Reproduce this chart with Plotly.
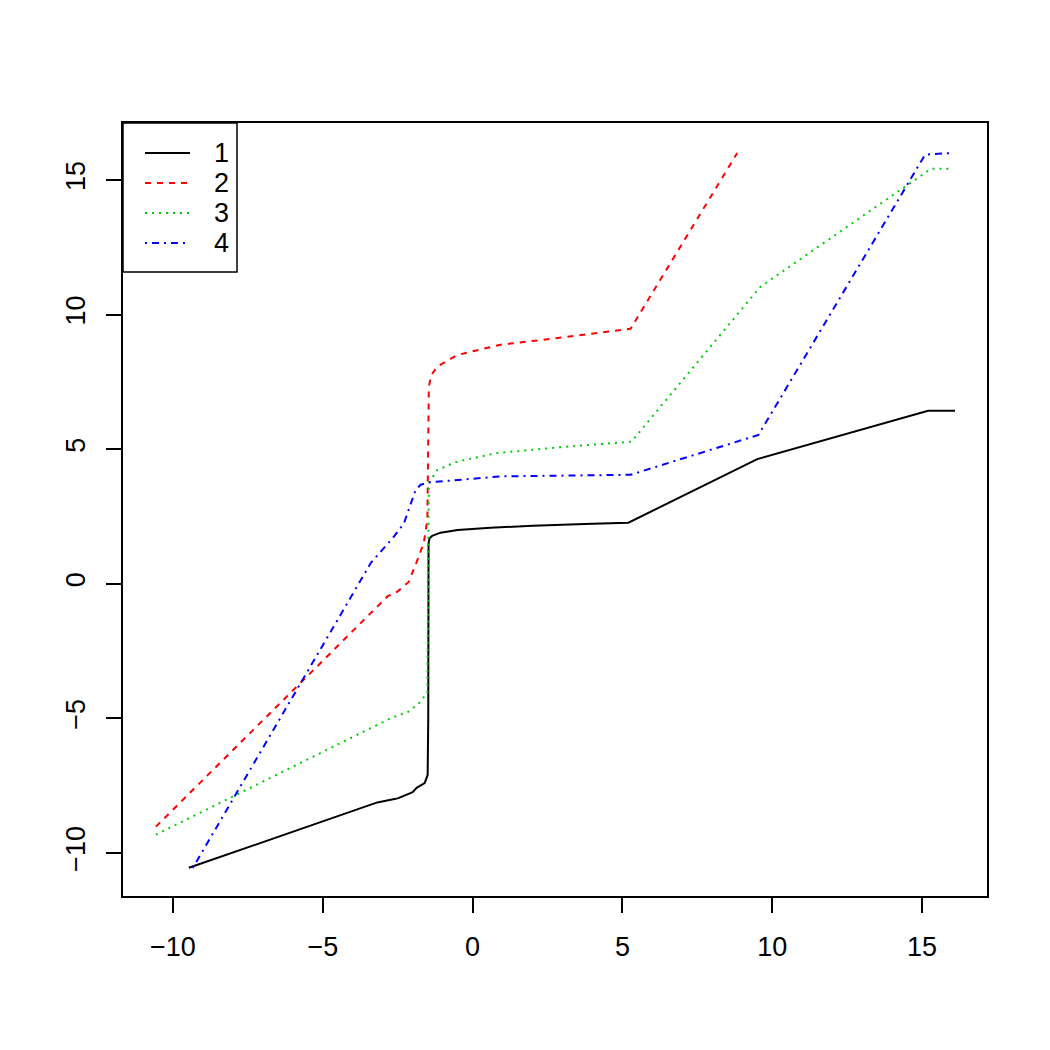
import plotly.graph_objects as go

# Series data
x1 = [-9.47, -3.18, -2.73, -2.5, -2.0, -1.87, -1.6, -1.5, -1.48, -1.47, -1.44, -1.35, -1.07, -0.5, 0.6, 2.0, 4.0, 5.2, 9.5, 15.2, 16.1]
y1 = [-10.55, -8.12, -8.02, -7.97, -7.74, -7.58, -7.4, -7.1, -5.0, 1.5, 1.68, 1.78, 1.9, 2.0, 2.08, 2.16, 2.23, 2.27, 4.63, 6.43, 6.43]

x2 = [-10.57, -2.84, -2.51, -2.13, -1.84, -1.63, -1.51, -1.48, -1.46, -1.38, -1.18, -0.51, 0.93, 3.0, 5.27, 8.83]
y2 = [-9.02, -0.47, -0.29, 0.07, 0.89, 1.52, 2.38, 5.0, 7.33, 7.75, 8.07, 8.5, 8.88, 9.15, 9.47, 16.0]

x3 = [-10.57, -2.73, -2.12, -1.8, -1.51, -1.48, -1.46, -1.18, -0.51, 0.82, 3.0, 5.3, 9.6, 15.3, 15.93]
y3 = [-9.32, -4.99, -4.74, -4.45, -4.05, 0.0, 3.74, 4.23, 4.54, 4.86, 5.08, 5.28, 11.03, 15.42, 15.42]

x4 = [-9.34, -3.4, -2.62, -2.29, -1.9, -1.73, -1.51, 0.93, 5.27, 9.54, 15.1, 15.93]
y4 = [-10.56, 0.77, 1.76, 2.25, 3.49, 3.68, 3.76, 3.99, 4.05, 5.53, 15.94, 16.0]

labels = ["1", "2", "3", "4"]
colors = ["#000000", "#FF0000", "#00CD00", "#0000FF"]
dashes = ["solid", "6px,6px", "2px,5px", "2px,5px,7px,5px"]

xticks = [-10, -5, 0, 5, 10, 15]
yticks = [-10, -5, 0, 5, 10, 15]

series = [(x1, y1), (x2, y2), (x3, y3), (x4, y4)]

fig = go.Figure()
for (xs, ys), lab, col, dash in zip(series, labels, colors, dashes):
    fig.add_trace(go.Scatter(x=xs, y=ys, mode="lines", name=lab,
                             line=dict(color=col, width=2, dash=dash),
                             showlegend=False))

FONT = "Liberation Sans, Arial, Helvetica, sans-serif"
FS = 27

# Manual legend in the R style
L, R, T, B = 123, 987, 123, 896
W, H = R - L, B - T
def px(xp):
    return (xp - L) / W
def py(yp):
    return 1 - (yp - T) / H

shapes = [dict(type="rect", xref="paper", yref="paper",
               x0=px(123), x1=px(237), y0=py(272), y1=py(123),
               line=dict(color="black", width=1.5), fillcolor="white", layer="above")]
annots = []
for i, (lab, col, dash) in enumerate(zip(labels, colors, dashes)):
    yy = 153 + 30 * i
    shapes.append(dict(type="line", xref="paper", yref="paper",
                       x0=px(145), x1=px(190), y0=py(yy), y1=py(yy),
                       line=dict(color=col, width=2, dash=dash), layer="above"))
    annots.append(dict(xref="paper", yref="paper", x=px(212), y=py(yy),
                       text=lab, showarrow=False, xanchor="left", yanchor="middle",
                       font=dict(size=FS, color="black", family=FONT)))

fig.update_layout(
    width=1050, height=1050,
    margin=dict(l=L, r=1050 - R, t=T, b=1050 - B),
    paper_bgcolor="white", plot_bgcolor="white",
    shapes=shapes, annotations=annots,
    font=dict(family=FONT, size=FS, color="black"),
)
fig.update_xaxes(range=[-11.667, 17.167], tickvals=xticks, ticktext=[str(v).replace("-", "\u2212") for v in xticks],
                 showgrid=False, zeroline=False, showline=True, mirror=True,
                 linecolor="black", linewidth=1.5, ticks="outside", ticklen=15,
                 tickwidth=1.5, tickcolor="black", ticklabelstandoff=11,
                 tickfont=dict(size=FS, family=FONT))
fig.update_yaxes(range=[-11.597, 17.117], tickvals=yticks, ticktext=[str(v).replace("-", "\u2212") for v in yticks],
                 showgrid=False, zeroline=False, showline=True, mirror=True,
                 linecolor="black", linewidth=1.5, ticks="outside", ticklen=15,
                 tickwidth=1.5, tickcolor="black", tickangle=-90, ticklabelstandoff=10,
                 tickfont=dict(size=FS, family=FONT))

fig.write_html("out.html")
